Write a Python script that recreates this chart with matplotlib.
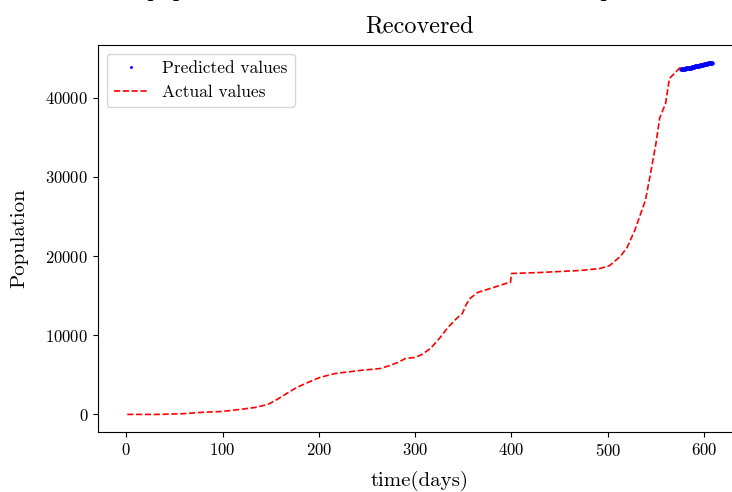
import matplotlib
matplotlib.use("Agg")
import matplotlib.pyplot as plt

plt.rcParams['font.family'] = 'cmr10'
plt.rcParams['mathtext.fontset'] = 'cm'
plt.rcParams['axes.formatter.use_mathtext'] = True

# actual recovered counts (day, population)
actual_days = [1, 35, 61, 77, 100, 118, 134, 147, 155, 165, 177, 191, 201, 217,
               243, 264, 274, 282, 290, 300, 307, 316, 326, 334, 343, 349, 353,
               357, 365, 378, 388, 394, 399, 400, 430, 471, 492, 502, 513, 520,
               528, 539, 544, 550, 554, 560, 564, 570, 575]
actual_pop = [0, 0, 100, 250, 380, 630, 880, 1260, 1770, 2520, 3400, 4160, 4670,
              5170, 5550, 5800, 6180, 6560, 7070, 7190, 7570, 8330, 9720, 10980,
              12110, 12740, 13880, 14640, 15400, 15900, 16280, 16530, 16660,
              17790, 17920, 18170, 18420, 18800, 19940, 21070, 23220, 27000,
              30160, 34200, 37480, 39240, 42400, 43150, 43790]

# model predictions for the last stretch
pred_days = list(range(576, 609))
pred_pop = [43640, 43645, 43650, 43660, 43670, 43690, 43710, 43730, 43750,
            43770, 43800, 43820, 43850, 43870, 43900, 43930, 43960, 43990,
            44020, 44050, 44080, 44110, 44140, 44170, 44200, 44230, 44260,
            44290, 44320, 44350, 44370, 44400, 44420]

fig = plt.figure(figsize=(7.32, 4.92), dpi=100)
ax = fig.add_axes([98/732, 1 - 432/492, (741 - 98)/732, (432 - 45)/492])

ax.plot(pred_days, pred_pop, 'b.', markersize=4.5, label='Predicted values')
ax.plot(actual_days, actual_pop, 'r--', linewidth=1.2, label='Actual values')

ax.set_title('Actual population of the Recovered class and the predicted values\nRecovered',
             fontsize=17.5, pad=9, linespacing=1.85)
ax.set_xlabel('time(days)', fontsize=15, labelpad=9)
ax.set_ylabel('Population', fontsize=15, labelpad=12)
ax.tick_params(labelsize=12)
ax.legend(loc='upper left', fontsize=12.5, markerscale=0.5)

fig.savefig('out.png', dpi=100)
